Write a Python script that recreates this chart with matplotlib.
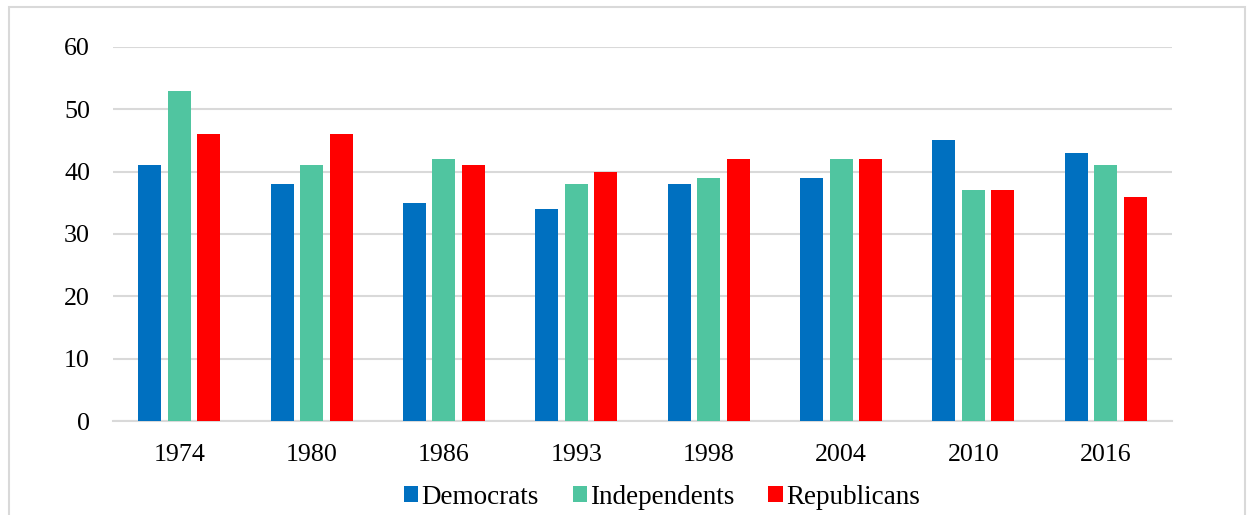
import numpy as np
import matplotlib.pyplot as plt
from matplotlib.patches import Rectangle

years = ['1974', '1980', '1986', '1993', '1998', '2004', '2010', '2016']
democrats = [41, 38, 35, 34, 38, 39, 45, 43]
independents = [53, 41, 42, 38, 39, 42, 37, 41]
republicans = [46, 46, 41, 40, 42, 42, 37, 36]

plt.rcParams['font.family'] = ['Liberation Serif', 'DejaVu Serif']

fig = plt.figure(figsize=(12.52, 5.15), dpi=100)
fig.patches.append(Rectangle((9 / 1252, -0.01), 1236 / 1252, 1 - 7 / 515 + 0.01,
                             transform=fig.transFigure, fill=False,
                             edgecolor='#d9d9d9', linewidth=1.5))

ax = fig.add_axes([113 / 1252, 94 / 515, 1059 / 1252, 374 / 515])

x = np.arange(len(years))
w = 0.174
step = 0.223
ax.bar(x - step, democrats, w, color='#0070c0', label='Democrats', zorder=3)
ax.bar(x, independents, w, color='#50c5a0', label='Independents', zorder=3)
ax.bar(x + step, republicans, w, color='#ff0000', label='Republicans', zorder=3)

ax.set_xlim(-0.5, len(years) - 0.5)
ax.set_ylim(0, 60)
ax.set_yticks(range(0, 61, 10))
ax.set_xticks(x)
ax.set_xticklabels(years)
ax.grid(axis='y', color='#d9d9d9', linewidth=1.5, zorder=0)
ax.tick_params(axis='both', length=0, labelsize=18.7)
ax.tick_params(axis='y', pad=16.5)
ax.tick_params(axis='x', pad=16.5)
for side in ['top', 'right', 'left']:
    ax.spines[side].set_visible(False)
ax.spines['bottom'].set_color('#d9d9d9')
ax.spines['bottom'].set_linewidth(1.5)

fig.legend(loc='center', bbox_to_anchor=(662 / 1252, 1 - 497 / 515), ncol=3,
           frameon=False, fontsize=19.5, handlelength=0.52, handleheight=0.52,
           handletextpad=0.12, columnspacing=1.25)

fig.savefig('out.png', dpi=100)
